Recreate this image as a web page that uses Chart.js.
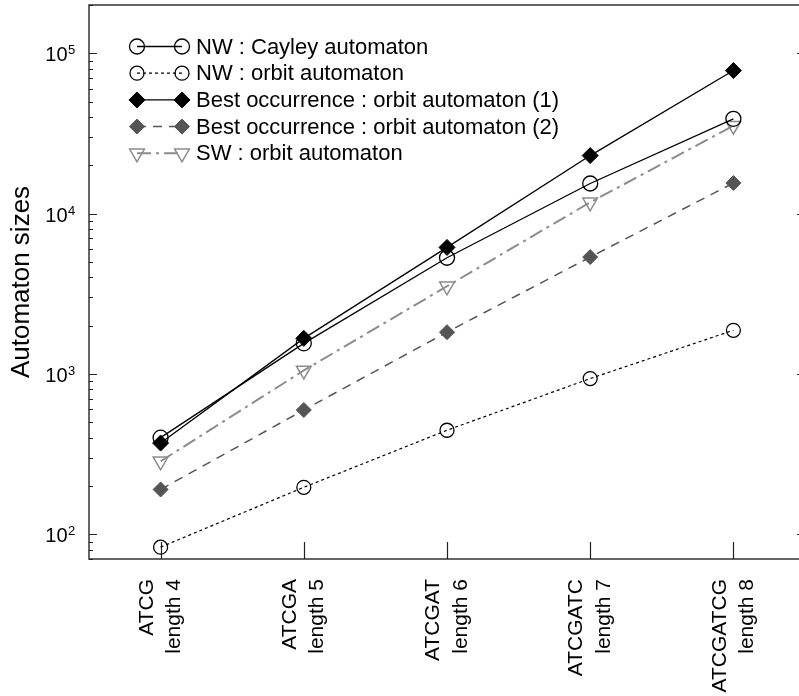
<!DOCTYPE html>
<html>
<head>
<meta charset="utf-8">
<script src="https://cdn.jsdelivr.net/npm/chart.js@4.4.1/dist/chart.umd.min.js"></script>
<style>
  html, body { margin: 0; padding: 0; background: #fff; overflow: hidden; width: 799px; height: 696px; }
  #wrap { width: 810px; height: 696px; position: relative; }
</style>
</head>
<body>
<div id="wrap"><canvas id="myChart"></canvas></div>
<script>
// categories
const sequences = ["ATCG", "ATCGA", "ATCGAT", "ATCGATC", "ATCGATCG"];
const lengthLabels = ["length 4", "length 5", "length 6", "length 7", "length 8"];

// series values
const nwCayley = [400, 1550, 5300, 15400, 39000];
const nwOrbit = [83, 196, 445, 935, 1870];
const bestOrbit1 = [370, 1665, 6150, 23000, 78000];
const bestOrbit2 = [190, 595, 1820, 5350, 15500];
const swOrbit = [285, 1050, 3520, 11750, 35300];

const seriesNames = [
  "NW : Cayley automaton",
  "NW : orbit automaton",
  "Best occurrence : orbit automaton (1)",
  "Best occurrence : orbit automaton (2)",
  "SW : orbit automaton"
];

// y axis ticks
const yMajorTicks = [100, 1000, 10000, 100000];
const yTickExponents = ["2", "3", "4", "5"];
const yTitle = "Automaton sizes";

const FONT = "'Liberation Sans', Arial, Helvetica, sans-serif";
const ctx = document.getElementById("myChart");

function drawMarker(c, ds, x, y) {
  const r = ds.pointRadius;
  c.save();
  c.setLineDash([]);
  c.beginPath();
  if (ds.pointStyle === "circle") {
    c.arc(x, y, r, 0, Math.PI * 2);
  } else if (ds.pointStyle === "rectRot") {
    c.moveTo(x, y - r); c.lineTo(x + r, y); c.lineTo(x, y + r); c.lineTo(x - r, y); c.closePath();
  } else {
    // triangle pointing down
    const s = Math.sin(Math.PI / 3) * r;
    c.moveTo(x, y + r); c.lineTo(x - s, y - r / 2); c.lineTo(x + s, y - r / 2); c.closePath();
  }
  if (ds.pointBackgroundColor && ds.pointBackgroundColor !== "rgba(0,0,0,0)") {
    c.fillStyle = ds.pointBackgroundColor;
    c.fill();
  }
  if (ds.pointBorderWidth > 0) {
    c.lineWidth = ds.pointBorderWidth;
    c.strokeStyle = ds.pointBorderColor;
    c.stroke();
  }
  c.restore();
}

const framePlugin = {
  id: "frame",
  beforeDatasetsDraw(chart) {
    const c = chart.ctx;
    const a = chart.chartArea;
    const ys = chart.scales.y;
    const xs = chart.scales.x;
    c.save();
    c.strokeStyle = "#333";
    c.lineWidth = 1.5;
    c.strokeRect(a.left, a.top, a.right - a.left, a.bottom - a.top);

    // y ticks, inside on both sides
    c.lineWidth = 1.2;
    c.strokeStyle = "#222";
    for (let k = 1; k <= 5; k++) {
      for (let m = 1; m <= 9; m++) {
        const v = m * Math.pow(10, k);
        if (v < ys.min || v > ys.max) continue;
        const y = Math.round(ys.getPixelForValue(v)) + 0.5;
        const len = m === 1 ? 8 : 4;
        c.beginPath();
        c.moveTo(a.left, y); c.lineTo(a.left + len, y);
        c.moveTo(a.right, y); c.lineTo(a.right - len, y);
        c.stroke();
      }
    }
    // x ticks, inside
    sequences.forEach((s, i) => {
      const x = Math.round(xs.getPixelForValue(i)) + 0.5;
      c.beginPath();
      c.moveTo(x, a.bottom); c.lineTo(x, a.bottom - 17);
      c.stroke();
    });

    // y tick labels 10^k
    c.fillStyle = "#000";
    yMajorTicks.forEach((v, i) => {
      const y = ys.getPixelForValue(v);
      c.font = "20px " + FONT;
      c.textAlign = "right";
      c.textBaseline = "alphabetic";
      c.fillText("10", 67.5, y + 8);
      c.font = "13px " + FONT;
      c.textAlign = "left";
      c.fillText(yTickExponents[i], 68, y + 1);
    });

    // y title
    c.translate(22, (a.top + a.bottom) / 2);
    c.rotate(-Math.PI / 2);
    c.font = "26px " + FONT;
    c.textAlign = "center";
    c.textBaseline = "middle";
    c.fillText(yTitle, 0, 0);
    c.restore();
  },
  afterDatasetsDraw(chart) {
    const c = chart.ctx;
    const x0 = 137, x1 = 182, tx = 196, y0 = 46.5, dy = 26.7;
    chart.data.datasets.forEach((ds, i) => {
      const y = y0 + i * dy;
      c.save();
      c.strokeStyle = ds.borderColor;
      c.lineWidth = ds.borderWidth;
      c.setLineDash(ds.borderDash || []);
      c.beginPath();
      c.moveTo(x0, y); c.lineTo(x1, y);
      c.stroke();
      c.restore();
      drawMarker(c, ds, x0, y);
      drawMarker(c, ds, x1, y);
      c.save();
      c.fillStyle = "#000";
      c.font = "22px " + FONT;
      c.textAlign = "left";
      c.textBaseline = "middle";
      c.fillText(seriesNames[i], tx, y + 1);
      c.restore();
    });
  }
};

const myChart = new Chart(ctx, {
  type: "line",
  data: {
    labels: sequences.map((s, i) => [s, lengthLabels[i]]),
    datasets: [
      {
        label: seriesNames[0], data: nwCayley, order: 2,
        borderColor: "#000", borderWidth: 1.3,
        pointStyle: "circle", pointRadius: 7.5, pointBorderWidth: 1.3,
        pointBorderColor: "#000", pointBackgroundColor: "rgba(0,0,0,0)"
      },
      {
        label: seriesNames[1], data: nwOrbit, order: 3,
        borderColor: "#000", borderWidth: 1.2, borderDash: [3, 3],
        pointStyle: "circle", pointRadius: 7, pointBorderWidth: 1.3,
        pointBorderColor: "#000", pointBackgroundColor: "rgba(0,0,0,0)"
      },
      {
        label: seriesNames[2], data: bestOrbit1, order: 0,
        borderColor: "#000", borderWidth: 1.3,
        pointStyle: "rectRot", pointRadius: 8, pointBorderWidth: 1,
        pointBorderColor: "#000", pointBackgroundColor: "#000"
      },
      {
        label: seriesNames[3], data: bestOrbit2, order: 1,
        borderColor: "#555", borderWidth: 1.5, borderDash: [9, 7],
        pointStyle: "rectRot", pointRadius: 7.5, pointBorderWidth: 1,
        pointBorderColor: "#555", pointBackgroundColor: "#555"
      },
      {
        label: seriesNames[4], data: swOrbit, order: 4,
        borderColor: "#8c8c8c", borderWidth: 2, borderDash: [14, 5, 3, 5],
        pointStyle: "triangle", pointRotation: 180, pointRadius: 8.5, pointBorderWidth: 1.5,
        pointBorderColor: "#8c8c8c", pointBackgroundColor: "rgba(0,0,0,0)"
      }
    ]
  },
  options: {
    responsive: true,
    maintainAspectRatio: false,
    devicePixelRatio: 1,
    animation: false,
    layout: { autoPadding: false, padding: { top: 5, right: 5, left: 0, bottom: 0 } },
    plugins: { legend: { display: false }, tooltip: { enabled: false } },
    scales: {
      x: {
        offset: true,
        grid: { display: false },
        border: { display: false },
        ticks: {
          autoSkip: false, minRotation: 90, maxRotation: 90, padding: 12, labelOffset: -13.5,
          color: "#000", font: { family: FONT, size: 21, lineHeight: 1.3 }
        },
        afterFit(s) { s.height = 137; }
      },
      y: {
        type: "logarithmic",
        min: 70,
        max: 200000,
        grid: { display: false },
        border: { display: false },
        ticks: { display: false },
        afterFit(s) { s.width = 89; }
      }
    }
  },
  plugins: [framePlugin]
});
</script>
</body>
</html>
